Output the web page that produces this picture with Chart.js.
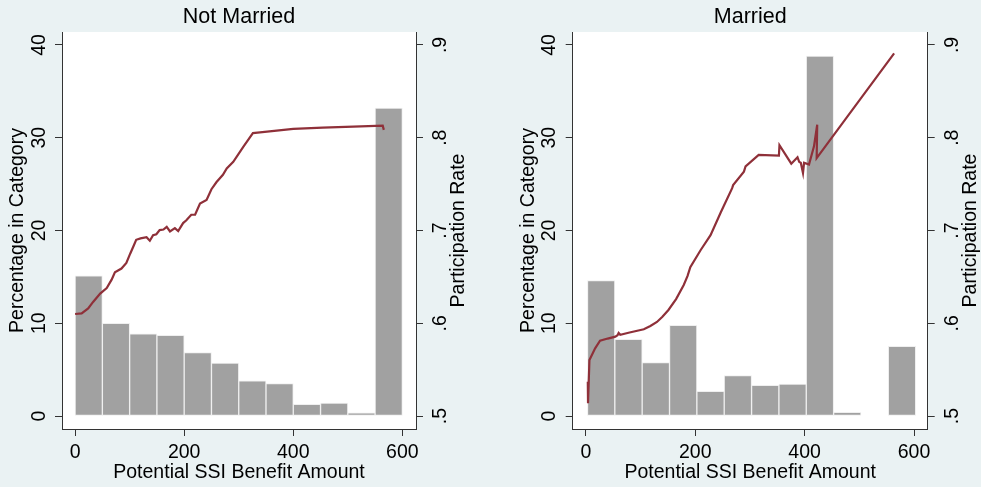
<!DOCTYPE html>
<html>
<head>
<meta charset="utf-8">
<script src="https://cdn.jsdelivr.net/npm/chart.js@4.4.1/dist/chart.umd.min.js"></script>
<style>
  html, body { margin: 0; padding: 0; background: #eaf2f3; }
  #wrap { position: relative; width: 981px; height: 487px; }
  canvas { position: absolute; top: 0; }
  #notMarried { left: 0; }
  #married { left: 490px; }
</style>
</head>
<body>
<div id="wrap">
  <canvas id="notMarried" width="490" height="487"></canvas>
  <canvas id="married" width="491" height="487"></canvas>
</div>
<script>
const xTicks = [0, 200, 400, 600];
const pctTicks = [0, 10, 20, 30, 40];
const rateTicks = [0.5, 0.6, 0.7, 0.8, 0.9];
const rateTickLabels = [".5", ".6", ".7", ".8", ".9"];

// histogram bins (width 50), bar placed at bin middle
const nmBinMids = [25, 75, 125, 175, 225, 275, 325, 375, 425, 475, 525, 575];
const nmPct = [15.1, 10.0, 8.85, 8.7, 6.85, 5.7, 3.8, 3.5, 1.25, 1.4, 0.35, 33.2];
const mBinMids = [28, 78, 128, 178, 228, 278, 328, 378, 428, 478, 528, 578];
const mPct = [14.6, 8.27, 5.75, 9.78, 2.66, 4.35, 3.3, 3.45, 38.8, 0.4, 0, 7.5];

// participation rate by benefit amount
const nmRateX = [0, 12, 24, 33, 46, 58, 67, 73, 85, 94, 101, 107, 112, 120, 131, 137, 143, 149, 155, 162,
  168, 174, 183, 189, 198, 204, 213, 220, 229, 241, 250, 259, 271, 278, 290, 308, 326, 339, 400, 454, 510, 564, 566];
const nmRate = [.610, .6107, .616, .623, .632, .638, .647, .655, .659, .665, .675, .683, .690, .6915, .6927, .689, .695, .696, .7005, .701,
  .704, .699, .7025, .6995, .708, .711, .717, .717, .729, .733, .7445, .752, .760, .767, .774, .790, .805, .8057, .8095, .811, .812, .813, .8085];
const mRateX = [3.6, 4, 6.6, 17, 26, 40, 54, 58, 60, 63, 80, 106, 118, 130, 140, 151, 165, 179, 186, 191,
  210, 228, 247, 267.5, 269.3, 289, 292, 316, 353, 354, 375.6, 387, 390, 393, 397, 399, 408, 417, 423, 422, 563.6];
const mRate = [.537, .5137, .5604, .573, .5812, .5835, .5856, .587, .5895, .5875, .590, .5935, .597, .6014, .607, .6143, .626, .6413, .651, .6604,
  .679, .695, .720, .7456, .749, .7635, .769, .7815, .7808, .792, .772, .779, .774, .773, .762, .773, .771, .7905, .814, .778, .891];

const FONT = "'Liberation Sans', Arial, sans-serif";
const AXIS = '#333';

const plotBackground = {
  id: 'plotBackground',
  beforeDraw(chart) {
    const {ctx, chartArea: a} = chart;
    ctx.save();
    ctx.fillStyle = '#ffffff';
    ctx.fillRect(a.left, a.top, a.right - a.left, a.bottom - a.top);
    ctx.restore();
  }
};

// right axis title reads bottom-to-top like the left one
const rightTitle = {
  id: 'rightTitle',
  afterDraw(chart, args, opts) {
    const {ctx, chartArea: a} = chart;
    ctx.save();
    ctx.translate(a.right + opts.offset, (a.top + a.bottom) / 2);
    ctx.rotate(-Math.PI / 2);
    ctx.font = '19.5px ' + FONT;
    ctx.fillStyle = '#000';
    ctx.textAlign = 'center';
    ctx.textBaseline = 'middle';
    ctx.fillText(opts.text, 0, 0);
    ctx.restore();
  }
};

function tickMarks() {
  return {display: true, drawOnChartArea: false, drawTicks: true, tickLength: 7, tickColor: AXIS, offset: false};
}

function drawPanel(id, plotLeft, plotRight, title, binMids, pct, rateX, rate) {
  const canvas = document.getElementById(id);
  const w = canvas.width;
  new Chart(canvas, {
    type: 'bar',
    data: {
      datasets: [
        {
          type: 'line',
          data: rateX.map((x, i) => ({x: x, y: rate[i]})),
          yAxisID: 'y1',
          borderColor: '#8f3039',
          borderWidth: 2.2,
          pointRadius: 0,
          tension: 0,
          order: 0
        },
        {
          type: 'bar',
          data: binMids.map((x, i) => ({x: x, y: pct[i]})),
          yAxisID: 'y',
          backgroundColor: '#a1a1a1',
          borderColor: '#efefef',
          borderWidth: 1,
          borderSkipped: false,
          barPercentage: 1,
          categoryPercentage: 1,
          order: 1
        }
      ]
    },
    options: {
      responsive: false,
      animation: false,
      devicePixelRatio: 1,
      layout: {padding: 0},
      plugins: {
        legend: {display: false},
        tooltip: {enabled: false},
        title: {
          display: true,
          text: title,
          fullSize: false,
          color: '#000',
          font: {family: FONT, size: 21.5, weight: 'normal', lineHeight: 1.2},
          padding: {top: 4, bottom: 2.2}
        },
        rightTitle: {text: 'Participation Rate', offset: 43}
      },
      scales: {
        x: {
          type: 'linear',
          min: -24,
          max: 625,
          offset: false,
          afterBuildTicks: s => { s.ticks = xTicks.map(v => ({value: v})); },
          afterFit: s => { s.height = 58; },
          grid: tickMarks(),
          border: {display: true, color: AXIS, width: 1},
          ticks: {color: '#000', font: {family: FONT, size: 19.5}, padding: 5, maxRotation: 0, autoSkip: false},
          title: {
            display: true,
            text: 'Potential SSI Benefit Amount',
            color: '#000',
            font: {family: FONT, size: 19.5, lineHeight: 1.2},
            padding: {top: 0, bottom: 2.6}
          }
        },
        y: {
          position: 'left',
          min: -1.4,
          max: 41.4,
          afterBuildTicks: s => { s.ticks = pctTicks.map(v => ({value: v})); },
          afterFit: s => { s.width = plotLeft; },
          grid: tickMarks(),
          border: {display: true, color: AXIS, width: 1},
          ticks: {color: '#000', font: {family: FONT, size: 19.5}, padding: 5, minRotation: 90, maxRotation: 90,
                  crossAlign: 'center', autoSkip: false},
          title: {
            display: true,
            text: 'Percentage in Category',
            color: '#000',
            font: {family: FONT, size: 19.5, lineHeight: 1.2},
            padding: {top: plotLeft - 44.5 - 11.7, bottom: 0}
          }
        },
        y1: {
          position: 'right',
          min: 0.486,
          max: 0.914,
          afterBuildTicks: s => { s.ticks = rateTicks.map(v => ({value: v})); },
          afterFit: s => { s.width = w - plotRight; },
          grid: tickMarks(),
          border: {display: true, color: AXIS, width: 1},
          ticks: {color: '#000', font: {family: FONT, size: 19.5}, padding: 9.4, minRotation: 90, maxRotation: 90,
                  crossAlign: 'center', autoSkip: false,
                  callback: (v, i) => rateTickLabels[i]}
        }
      }
    },
    plugins: [plotBackground, rightTitle]
  });
}

drawPanel('notMarried', 62, 416, 'Not Married', nmBinMids, nmPct, nmRateX, nmRate);
drawPanel('married', 82.7, 437.7, 'Married', mBinMids, mPct, mRateX, mRate);
</script>
</body>
</html>
